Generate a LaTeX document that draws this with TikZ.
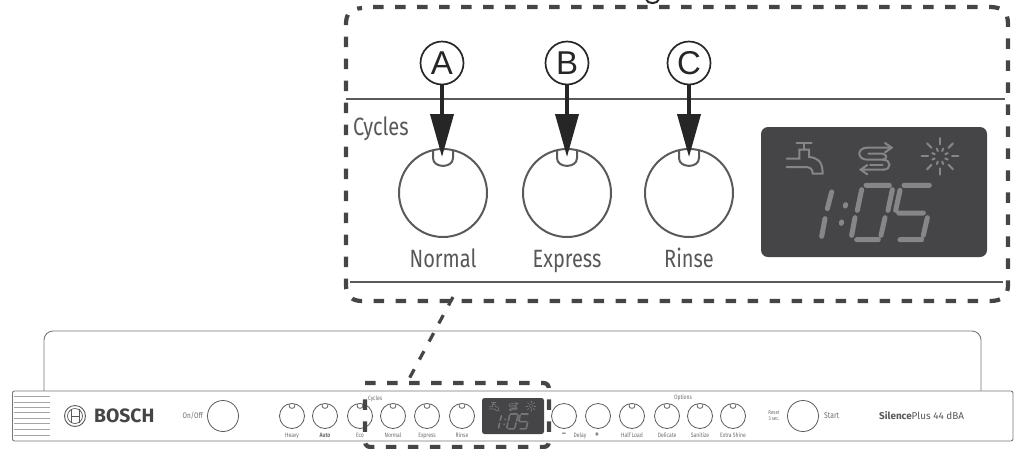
\documentclass[tikz,border=0pt]{standalone}
\usepackage{fontspec}
\setmainfont{Fira Sans}
\newfontfamily\lab[FakeStretch=0.8]{Fira Sans}
\newfontfamily\helv{Liberation Sans}
\usetikzlibrary{arrows.meta,calc}
\definecolor{ink}{HTML}{262626}
\definecolor{dashc}{HTML}{454547}
\definecolor{linec}{HTML}{5A5A5C}
\definecolor{labc}{HTML}{58585A}
\definecolor{tinyc}{HTML}{6E6E70}
\definecolor{segc}{HTML}{868688}
\definecolor{panelc}{HTML}{77777A}
\tikzset{
  dashbox/.style={draw=dashc,line width=4.2pt,dash pattern=on 10.5pt off 11.5pt},
  bigbtn/.style={circle,draw=linec,line width=2pt,minimum size=88pt,inner sep=0pt,outer sep=0pt},
  smallbtn/.style={circle,draw=linec,line width=.8pt,minimum size=25pt,inner sep=0pt,outer sep=0pt},
  wakebtn/.style={circle,draw=linec,line width=.8pt,minimum size=31pt,inner sep=0pt,outer sep=0pt},
  callout/.style={circle,draw=ink,line width=1.7pt,fill=white,minimum size=43pt,inner sep=0pt,outer sep=0pt,text=ink,font=\helv\fontsize{33}{33}\selectfont},
  pointer/.style={draw=ink,line width=3.8pt,-{Triangle[width=23pt,length=43pt,fill=ink]}},
  biglabel/.style={text=labc,inner sep=0pt,font=\lab\fontsize{25}{25}\selectfont},
  tiny/.style={text=tinyc,inner sep=0pt,font=\lab\fontsize{6.3}{6.8}\selectfont,align=center},
  seg/.style={draw=segc,line cap=round},
}
% notch of a button, in units of the big button
\newcommand\notch[4]{\draw[draw=linec,line width=#4] ($(#1,#2)+(-10*#3,-43*#3)$) -- ($(#1,#2)+(-10*#3,-35*#3)$) .. controls ($(#1,#2)+(-10*#3,-24.5*#3)$) and ($(#1,#2)+(10*#3,-24.5*#3)$) .. ($(#1,#2)+(10*#3,-35*#3)$) -- ($(#1,#2)+(10*#3,-43*#3)$);}
% display, drawn in the coordinates of a 3x enlargement with origin at its top-left corner
\newcommand\displayart[5]{%
\begin{scope}[shift={(#1,#2)},scale=#3/3,shift={(-363,-50)},opacity=#5]
  \begin{scope}[seg,line width=#4*.5pt]
    % tap
    \draw (470,98) -- (515,98) (492,98) -- (492,118);
    \draw (440,145) -- (478,145) -- (478,118) -- (507,118) -- (507,140) .. controls (530,142) and (548,150) .. (548,190) -- (518,190) .. controls (518,175) and (510,170) .. (495,170) -- (440,170);
    % cycle arrows
    \draw (755,112) -- (682,112) .. controls (650,112) and (650,148) .. (682,148) -- (728,148) .. controls (742,148) and (742,132) .. (728,130) -- (685,130);
    \draw (735,98) -- (755,112) -- (735,126);
    \draw (730,178) -- (662,178) (682,164) -- (662,178) -- (682,192);
    \draw (730,178) .. controls (755,178) and (755,148) .. (728,148);
    \draw (690,164) -- (728,164);
  \end{scope}
  % burst
  \foreach \a in {0,45,...,315} {
    \draw[seg,line width=#4*.5pt] ($(900,138)+(\a:36)$) -- ($(900,138)+(\a:55)$);
    \draw[seg,line width=#4*.5pt] ($(900,138)+(\a+22.5:17)$) -- ($(900,138)+(\a+22.5:25)$);
  }
  \begin{scope}[seg,line width=#4*1.25pt]
    % 1
    \draw (575,245) -- (562,295) (555,325) -- (545,378);
    % colon
    \draw (617,283) -- (616,287) (605,335) -- (604,339);
    % 0
    \draw (678,225) -- (748,225) (665,238) -- (652,300) (757,238) -- (744,300)
          (645,322) -- (635,375) (735,322) -- (723,375) (650,388) -- (715,388);
    % 5
    \draw (792,225) -- (868,225) (780,240) -- (767,300) (776,308) -- (850,308)
          (862,322) -- (850,375) (780,388) -- (845,388);
  \end{scope}
\end{scope}}
\begin{document}
\begin{tikzpicture}[x=1pt,y=-1pt]
\useasboundingbox (0,0) rectangle (1020,448);

% clipped title fragment at the top edge
\draw[ink,line width=2pt] (646,-1) .. controls (647,4.5) and (658,4.5) .. (659,-1);

% enlarged view
\draw[linec,line width=2pt] (346,99) -- (1005,99);
\draw[linec,line width=2pt] (350,282) -- (1003,282);
\draw[dashbox] (373,7) -- (990,7) .. controls (1002,7) and (1008,12) .. (1008,24) -- (1008,285) .. controls (1008,296) and (1002,301) .. (990,301) -- (362,301) .. controls (352,301) and (346,296) .. (346,285) -- (346,24) .. controls (346,14) and (350,9) .. (362,8);

\node[biglabel,anchor=base west] (cyc) at (353,135) {Cycles};
\node[bigbtn] (bnA) at (443,193) {};
\node[bigbtn] (bnB) at (567,193) {};
\node[bigbtn] (bnC) at (689,193) {};
\notch{443}{193}{1}{2pt}
\notch{567}{193}{1}{2pt}
\notch{689}{193}{1}{2pt}
\node[biglabel,anchor=base] (lnA) at (443,267) {Normal};
\node[biglabel,anchor=base] (lnB) at (567,267) {Express};
\node[biglabel,anchor=base] (lnC) at (689,267) {Rinse};

\node[callout] (cA) at (442,63) {A};
\node[callout] (cB) at (567,63) {B};
\node[callout] (cC) at (689,63) {C};
\coordinate (tA) at (442,157);
\coordinate (tB) at (567,157);
\coordinate (tC) at (689,157);
\draw[pointer] (cA) -- (tA);
\draw[pointer] (cB) -- (tB);
\draw[pointer] (cC) -- (tC);

% large display
\node[draw=none,fill=dashc,rounded corners=7pt,minimum width=226pt,minimum height=130pt,inner sep=0pt,outer sep=0pt] (bigdisp) at (874,192) {};
\displayart{761}{127}{1}{4}{1}

% control panel
\draw[draw=panelc,line width=.9pt,rounded corners=9pt,fill=white] (44,391) -- (44,331) -- (981,331) -- (981,391);
\draw[draw=panelc,line width=.9pt,rounded corners=2pt,fill=white] (12.5,391) rectangle (1013,441);
\foreach \yy in {396,402,407,412,418,423,429,435} \draw[draw=black!35,line width=.7pt] (14,\yy) -- (50,\yy);

% logo
\node[circle,draw=linec,line width=.9pt,minimum size=21pt,inner sep=0pt] (logo) at (75,416) {};
\draw[draw=linec,line width=.7pt] (75,416) circle (7.5);
\draw[draw=linec,line width=.9pt] (71,409) -- (71,423) (79,409) -- (79,423) (71,416) -- (79,416);
\node[text=dashc,inner sep=0pt,font=\bfseries\fontsize{19.3}{18}\selectfont,anchor=west] (brand) at (94,416) {BOSCH};
\node[tiny,anchor=east,font=\lab\fontsize{8}{8}\selectfont] (onoff) at (203,416) {On/Off};
\node[wakebtn] (bon) at (223,416) {};

% small buttons
\foreach \nm/\xx/\tx in {heavy/292/Heavy,auto/325/\textbf{Auto},eco/360/Eco,norm/393/Normal,expr/427/Express,rins/462/Rinse,half/632/Half Load,deli/667/Delicate,sani/700/Sanitize,extr/733/Extra Shine} {
  \node[smallbtn] (b\nm) at (\xx,416) {};
  \notch{\xx}{416}{.284}{.8pt}
  \node[tiny] (l\nm) at (\xx,435.5) {\tx};
}
\node[smallbtn] (bminus) at (564,416) {};
\node[smallbtn] (bplus) at (598,416) {};
\node[tiny,font=\lab\bfseries\fontsize{9}{9}\selectfont] (lminus) at (564,435) {–};
\node[tiny] (ldelay) at (580,435.5) {Delay};
\node[tiny,font=\lab\bfseries\fontsize{9}{9}\selectfont] (lplus) at (597,435) {+};
\node[tiny,anchor=west] (lcyc) at (368,399) {Cycles};
\node[tiny] (lopt) at (683,398) {Options};
\node[tiny,font=\lab\fontsize{5.5}{6}\selectfont] (lreset) at (774,416) {Reset\\3 sec.};
\node[wakebtn] (bstart) at (803,416) {};
\node[tiny,font=\lab\fontsize{8.5}{8}\selectfont,anchor=west] (lstart) at (824,416) {Start};
\node[text=labc,inner sep=0pt,anchor=west,font=\fontsize{9.9}{10}\selectfont] (lsil) at (879,416) {\textbf{Silence}Plus 44 dBA};

% small display
\node[fill=dashc,rounded corners=2.5pt,minimum width=62pt,minimum height=36pt,inner sep=0pt,outer sep=0pt] (smalldisp) at (513,416) {};
\displayart{482}{398}{.274}{1.3}{.75}

% small dashed frame and leader
\draw[dashbox] (365,383) -- (543,383) .. controls (547,383) and (549,385) .. (549,390) -- (549,441) .. controls (549,445) and (547,447) .. (543,447) -- (371,447) .. controls (367,447) and (365,445) .. (365,441) -- (365,389);
\coordinate (leadA) at (453,297);
\coordinate (leadB) at (409,379);
\draw[draw=dashc,line width=3.2pt,dash pattern=on 9.5pt off 11pt] (leadA) -- (leadB);
\end{tikzpicture}
\end{document}
